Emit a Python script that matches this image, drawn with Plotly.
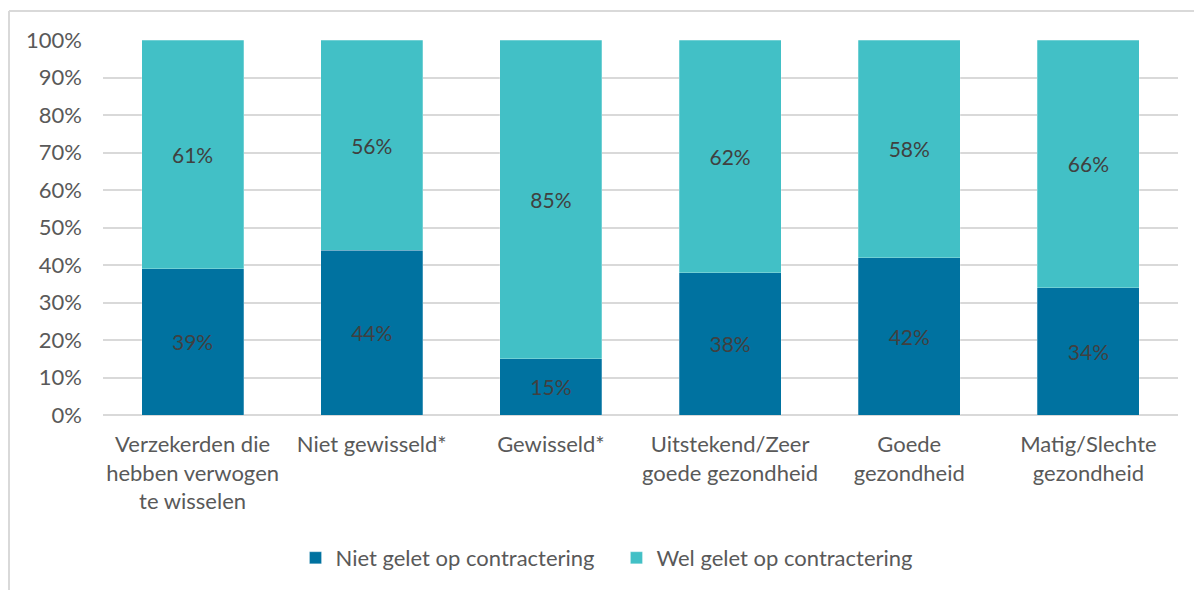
import plotly.graph_objects as go

categories = [
    "Verzekerden die<br>hebben verwogen<br>te wisselen",
    "Niet gewisseld*",
    "Gewisseld*",
    "Uitstekend/Zeer<br>goede gezondheid",
    "Goede<br>gezondheid",
    "Matig/Slechte<br>gezondheid",
]
niet_gelet = [39, 44, 15, 38, 42, 34]
wel_gelet = [61, 56, 85, 62, 58, 66]

DARK = "#0072A0"
LIGHT = "#42C0C6"
TEXT = "#404040"
TICK = "#595959"
FONT = "Lato, Open Sans, sans-serif"
FS = 21     # data labels
FT = 22     # axis + legend text

# the page puts the figure 8px in from the top-left corner
OFF = 8
W, H = 1202 - OFF, 590 - OFF
L, R, T, B = 103 - OFF, 24, 40 - OFF, 590 - 416
pw, ph = W - L - R, H - T - B


def px_x(x):
    return (x - OFF - L) / pw


def px_y(y):
    return (H - B - (y - OFF)) / ph


fig = go.Figure()
fig.add_trace(go.Bar(
    x=categories, y=niet_gelet, name="Niet gelet op contractering\u00a0\u00a0\u00a0",
    marker=dict(color=DARK, line=dict(color="rgba(255,255,255,0.5)", width=0.5)),
    text=[f"{v}%" for v in niet_gelet], textposition="inside",
    insidetextanchor="middle", textfont=dict(color=TEXT, size=FS, family=FONT),
    hoverinfo="skip",
))
fig.add_trace(go.Bar(
    x=categories, y=wel_gelet, name="Wel gelet op contractering",
    marker=dict(color=LIGHT, line=dict(color="rgba(255,255,255,0.5)", width=0.5)),
    text=[f"{v}%" for v in wel_gelet], textposition="inside",
    insidetextanchor="middle", textfont=dict(color=TEXT, size=FS, family=FONT),
    hoverinfo="skip",
))

fig.update_layout(
    width=W, height=H,
    barmode="stack", bargap=0.43,
    paper_bgcolor="white", plot_bgcolor="white",
    margin=dict(l=L, r=R, t=T, b=B),
    font=dict(family=FONT, color=TICK, size=FT),
    uniformtext=dict(mode="show", minsize=FS),
    legend=dict(
        orientation="h", traceorder="normal",
        x=px_x(607), y=px_y(558),
        xanchor="center", yanchor="middle",
        font=dict(size=FT, color=TICK), itemwidth=30,
    ),
    xaxis=dict(showline=False, ticks="", ticklabelstandoff=14,
               tickfont=dict(size=FT, color=TICK)),
    yaxis=dict(
        range=[0, 100], dtick=10, ticksuffix="%",
        gridcolor="#D9D9D9", gridwidth=2, zeroline=True,
        zerolinecolor="#D9D9D9", zerolinewidth=2,
        tickfont=dict(size=FT, color=TICK), ticks="", ticklabelstandoff=20,
    ),
    # chart-area frame: only the top and left edges show in the picture
    shapes=[
        dict(type="line", xref="paper", yref="paper", layer="above",
             x0=px_x(9), x1=px_x(1200), y0=px_y(11), y1=px_y(11),
             line=dict(color="#D9D9D9", width=2)),
        dict(type="line", xref="paper", yref="paper", layer="above",
             x0=px_x(9), x1=px_x(9), y0=px_y(11), y1=px_y(600),
             line=dict(color="#D9D9D9", width=2)),
    ],
)

fig.write_html("out.html")
